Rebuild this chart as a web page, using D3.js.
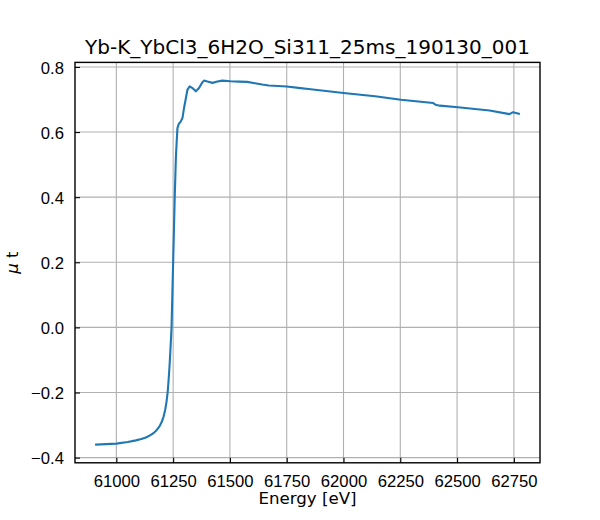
<!DOCTYPE html>
<html>
<head>
<meta charset="utf-8">
<script src="https://cdn.jsdelivr.net/npm/d3@7"></script>
<style>
  body { margin: 0; background: #fff; }
  svg { font-family: "DejaVu Sans", sans-serif; }
  .tick text { font-size: 16.67px; fill: #000; }
</style>
</head>
<body>
<svg id="chart" width="600" height="520"></svg>
<script>
var chartTitle = "Yb-K_YbCl3_6H2O_Si311_25ms_190130_001";

// energy [eV] and mu t
var energy = [60911, 61000, 61050, 61086, 61110, 61130, 61150, 61165, 61178, 61190,
  61200, 61208, 61215, 61221, 61226, 61230, 61234, 61238, 61243, 61250,
  61257, 61262, 61266, 61269, 61275, 61283, 61291, 61298, 61305, 61313,
  61323, 61335, 61350, 61364, 61378, 61386, 61401, 61423, 61445, 61467,
  61503, 61540, 61576, 61610, 61642, 61671, 61750, 61811, 61846, 62000,
  62139, 62253, 62395, 62405, 62424, 62504, 62643, 62731, 62746, 62772];
var mut = [-0.360, -0.357, -0.352, -0.347, -0.343, -0.338, -0.331, -0.324, -0.315, -0.304,
  -0.290, -0.274, -0.253, -0.228, -0.198, -0.162, -0.120, -0.070, 0.000, 0.200,
  0.400, 0.520, 0.576, 0.612, 0.625, 0.632, 0.643, 0.674, 0.700, 0.730,
  0.740, 0.735, 0.725, 0.735, 0.752, 0.758, 0.755, 0.751, 0.755, 0.758,
  0.756, 0.755, 0.754, 0.750, 0.746, 0.743, 0.740, 0.735, 0.732, 0.720,
  0.710, 0.699, 0.689, 0.684, 0.681, 0.676, 0.666, 0.655, 0.661, 0.656];

var xTicks = [61000, 61250, 61500, 61750, 62000, 62250, 62500, 62750];
var yTicks = [-0.4, -0.2, 0.0, 0.2, 0.4, 0.6, 0.8];

var margin = {left: 75, right: 60, top: 62.4, bottom: 57.2};
var width = 600 - margin.left - margin.right;
var height = 520 - margin.top - margin.bottom;

var svg = d3.select("#chart");

function padded(ext){
  var p = (ext[1] - ext[0]) * 0.05;
  return [ext[0] - p, ext[1] + p];
}

var xScale = d3.scaleLinear().domain(padded(d3.extent(energy))).range([0, width]);
var yScale = d3.scaleLinear().domain(padded(d3.extent(mut))).range([height, 0]);

var g = svg.append("g")
  .attr("transform", "translate(" + margin.left + "," + margin.top + ")");

// grid
g.append("g")
  .selectAll("line")
  .data(xTicks)
  .enter()
  .append("line")
  .attr("x1", function(d){ return xScale(d); })
  .attr("x2", function(d){ return xScale(d); })
  .attr("y1", 0)
  .attr("y2", height)
  .attr("stroke", "#b0b0b0")
  .attr("stroke-width", 1.1);

g.append("g")
  .selectAll("line")
  .data(yTicks)
  .enter()
  .append("line")
  .attr("x1", 0)
  .attr("x2", width)
  .attr("y1", function(d){ return yScale(d); })
  .attr("y2", function(d){ return yScale(d); })
  .attr("stroke", "#b0b0b0")
  .attr("stroke-width", 1.1);

// curve
var points = energy.map(function(e, i){ return [e, mut[i]]; });
var line = d3.line()
  .x(function(d){ return xScale(d[0]); })
  .y(function(d){ return yScale(d[1]); });

g.append("path")
  .datum(points)
  .attr("d", line)
  .attr("fill", "none")
  .attr("stroke", "#1f77b4")
  .attr("stroke-width", 2.1)
  .attr("stroke-linejoin", "round")
  .attr("stroke-linecap", "square");

// axes, ticks pointing inward
var xAxis = g.append("g")
  .attr("transform", "translate(0," + height + ")")
  .call(d3.axisBottom(xScale).tickValues(xTicks).tickFormat(d3.format("d"))
    .tickSizeInner(-5).tickSizeOuter(0).tickPadding(12));
xAxis.select(".domain").remove();
xAxis.selectAll(".tick line").attr("stroke-width", 1.1);

var yFmt = function(d){ return d3.format(".1f")(d).replace("-", "\u2212"); };
var yAxis = g.append("g")
  .call(d3.axisLeft(yScale).tickValues(yTicks).tickFormat(yFmt)
    .tickSizeInner(-5).tickSizeOuter(0).tickPadding(11));
yAxis.select(".domain").remove();
yAxis.selectAll(".tick line").attr("stroke-width", 1.1);
yAxis.selectAll(".tick text").attr("dy", "0.38em");

// frame
g.append("rect")
  .attr("width", width)
  .attr("height", height)
  .attr("fill", "none")
  .attr("stroke", "#000")
  .attr("stroke-width", 1.4);

// labels
svg.append("text")
  .attr("x", margin.left + width / 2)
  .attr("y", 54)
  .attr("text-anchor", "middle")
  .style("font-size", "20px")
  .text(chartTitle);

svg.append("text")
  .attr("x", margin.left + width / 2)
  .attr("y", 504)
  .attr("text-anchor", "middle")
  .style("font-size", "16.67px")
  .text("Energy [eV]");

var yLab = svg.append("text")
  .attr("transform", "translate(18," + (margin.top + height / 2) + ") rotate(-90)")
  .attr("text-anchor", "middle")
  .style("font-size", "16.67px");
yLab.append("tspan").style("font-style", "italic").text("\u03bc");
yLab.append("tspan").text(" t");
</script>
</body>
</html>
